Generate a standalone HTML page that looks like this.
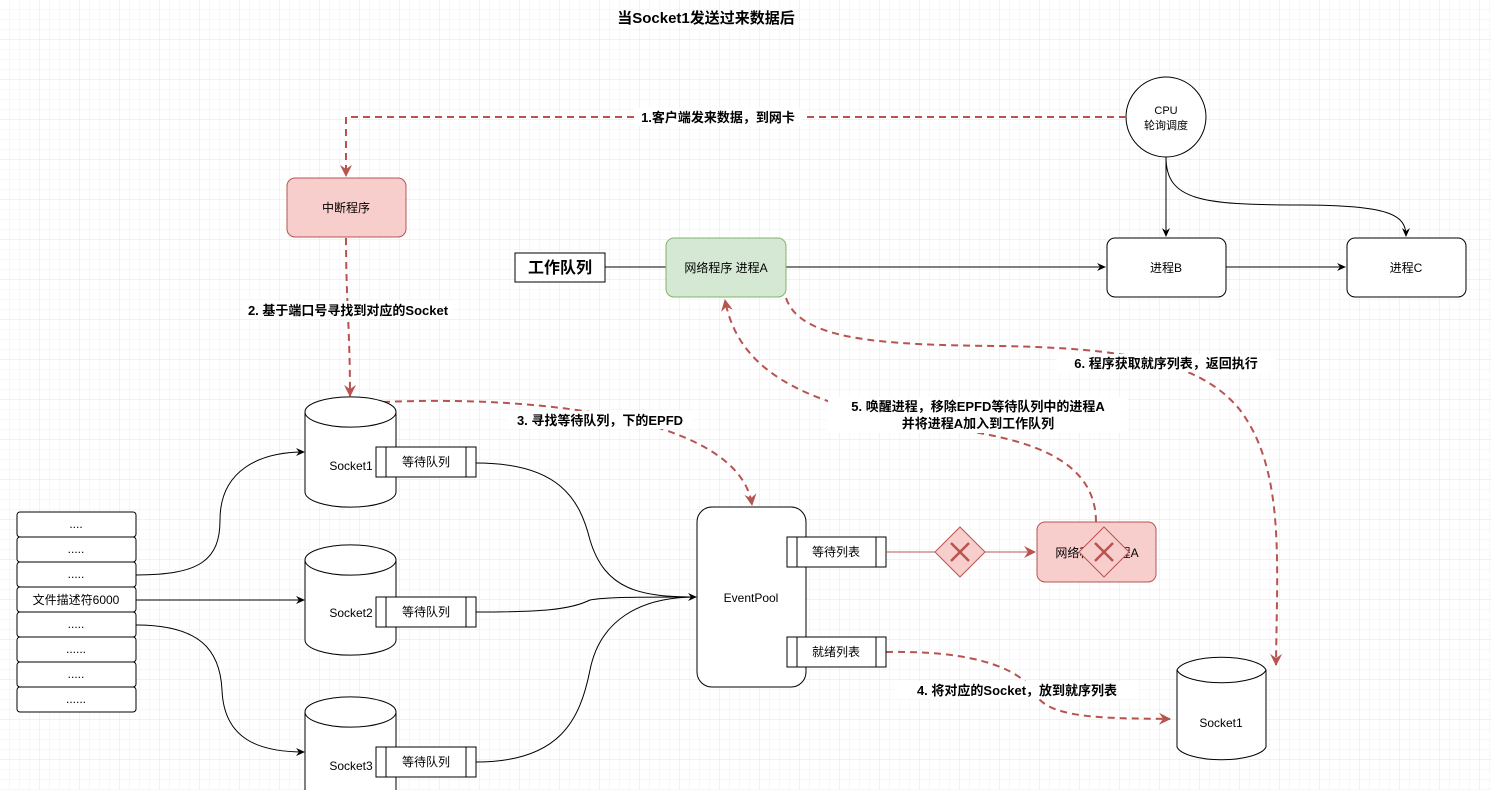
<!DOCTYPE html>
<html><head><meta charset="utf-8"><style>
html,body{margin:0;padding:0;background:#fff}
svg{display:block}
text{font-family:"Liberation Sans","Noto Sans CJK SC",sans-serif;font-size:12px;fill:#000}
.b{font-weight:bold;font-size:13px}
</style></head><body>
<svg width="1492" height="790" viewBox="0 0 1492 790" xmlns="http://www.w3.org/2000/svg">
<defs>
<pattern id="g1" width="10" height="10" patternUnits="userSpaceOnUse"><path d="M10 0V10M0 10H10" fill="none" stroke="#f1f1f1" stroke-width="1"/></pattern>
<pattern id="g4" width="40" height="40" patternUnits="userSpaceOnUse" x="0" y="0"><rect width="40" height="40" fill="url(#g1)"/><path d="M40 0V40M0 40H40" fill="none" stroke="#e4e4e4" stroke-width="1"/></pattern>
<marker id="ab" markerWidth="10" markerHeight="10" refX="8" refY="5" orient="auto" markerUnits="userSpaceOnUse"><path d="M0,1 L9,5 L0,9 L3,5z" fill="#000"/></marker>
<marker id="ar" markerWidth="14" markerHeight="14" refX="11" refY="7" orient="auto" markerUnits="userSpaceOnUse"><path d="M0,1 L12,7 L0,13 L4,7z" fill="#b85450"/></marker>
</defs>
<rect width="1492" height="790" fill="url(#g4)"/>
<text x="706" y="23" text-anchor="middle" style="font-weight:bold;font-size:15px">当Socket1发送过来数据后</text>

<circle cx="1166" cy="117" r="40" fill="#fff" stroke="#000"/>
<text x="1166" y="114" text-anchor="middle" style="font-size:11px">CPU</text>
<text x="1166" y="129" text-anchor="middle" style="font-size:11px">轮询调度</text>
<g fill="none" stroke="#b85450" stroke-width="2" stroke-dasharray="7,5">
<path d="M1126 117 H346 V176" marker-end="url(#ar)"/>
<path d="M346 238 C346 300 350 330 350 396" marker-end="url(#ar)"/>
<path d="M383 402 C550 395 740 420 752 505" marker-end="url(#ar)"/>
<path d="M886 652 C1000 650 1030 680 1040 700 C1060 720 1120 718 1170 719" marker-end="url(#ar)"/>
<path d="M1096 522 C1096 460 1030 440 960 430 C820 410 740 380 725 300" marker-end="url(#ar)"/>
<path d="M786 298 C800 340 880 345 1000 346 C1120 348 1200 360 1240 410 C1285 470 1277 560 1276 665" marker-end="url(#ar)"/>
</g>
<rect x="634" y="108" width="168" height="18" fill="#fff"/>
<text x="718" y="122" text-anchor="middle" class="b">1.客户端发来数据，到网卡</text>
<rect x="287" y="178" width="119" height="59" rx="8" fill="#f8cecc" stroke="#b85450"/>
<text x="346" y="212" text-anchor="middle">中断程序</text>
<rect x="244" y="301" width="208" height="18" fill="#fff"/>
<text x="348" y="315" text-anchor="middle" class="b">2. 基于端口号寻找到对应的Socket</text>
<rect x="508" y="411" width="184" height="18" fill="#fff"/>
<text x="600" y="425" text-anchor="middle" class="b">3. 寻找等待队列，下的EPFD</text>
<rect x="828" y="397" width="300" height="36" fill="#fff"/>
<text x="978" y="411" text-anchor="middle" class="b">5. 唤醒进程，移除EPFD等待队列中的进程A</text>
<text x="978" y="428" text-anchor="middle" class="b">并将进程A加入到工作队列</text>
<rect x="1056" y="354" width="220" height="18" fill="#fff"/>
<text x="1166" y="368" text-anchor="middle" class="b">6. 程序获取就序列表，返回执行</text>
<rect x="895" y="681" width="244" height="18" fill="#fff"/>
<text x="1017" y="695" text-anchor="middle" class="b">4.  将对应的Socket，放到就序列表</text>

<rect x="515" y="253" width="90" height="29" fill="#fff" stroke="#000"/>
<text x="560" y="273" text-anchor="middle" style="font-weight:bold;font-size:16px">工作队列</text>
<g fill="none" stroke="#000">
<path d="M605 267 H666"/>
<path d="M786 267 H1105" marker-end="url(#ab)"/>
<path d="M1226 267 H1345" marker-end="url(#ab)"/>
<path d="M1166 157 V236" marker-end="url(#ab)"/>
<path d="M1166 157 C1166 200 1200 205 1300 205 C1390 205 1406 215 1406 236" marker-end="url(#ab)"/>
</g>
<rect x="666" y="238" width="120" height="59" rx="8" fill="#d5e8d4" stroke="#82b366"/>
<text x="726" y="272" text-anchor="middle">网络程序  进程A</text>
<rect x="1107" y="238" width="119" height="59" rx="8" fill="#fff" stroke="#000"/>
<text x="1166" y="272" text-anchor="middle">进程B</text>
<rect x="1347" y="238" width="119" height="59" rx="8" fill="#fff" stroke="#000"/>
<text x="1406" y="272" text-anchor="middle">进程C</text>

<g fill="#fff" stroke="#000">
<rect x="17" y="512" width="119" height="25" rx="3"/>
<rect x="17" y="537" width="119" height="25" rx="3"/>
<rect x="17" y="562" width="119" height="25" rx="3"/>
<rect x="17" y="587" width="119" height="25" rx="3"/>
<rect x="17" y="612" width="119" height="25" rx="3"/>
<rect x="17" y="637" width="119" height="25" rx="3"/>
<rect x="17" y="662" width="119" height="25" rx="3"/>
<rect x="17" y="687" width="119" height="25" rx="3"/>
</g>
<g text-anchor="middle" style="font-size:11px">
<text x="76" y="528">....</text><text x="76" y="553">.....</text><text x="76" y="578">.....</text>
<text x="76" y="604">文件描述符6000</text>
<text x="76" y="628">.....</text><text x="76" y="653">......</text><text x="76" y="678">.....</text><text x="76" y="703">......</text>
</g>
<g fill="none" stroke="#000">
<path d="M136 575 C200 575 220 560 220 520 C220 470 260 452 304 452" marker-end="url(#ab)"/>
<path d="M136 600 H304" marker-end="url(#ab)"/>
<path d="M136 625 C200 625 220 650 222 690 C224 740 260 752 304 752" marker-end="url(#ab)"/>
<path d="M476 463 C560 463 580 500 590 540 C605 590 640 597 696 597" marker-end="url(#ab)"/>
<path d="M476 612 C540 612 570 610 590 600 C605 597 640 597 696 597"/>
<path d="M476 762 C560 762 580 720 590 670 C600 620 640 597 696 597"/>
</g>

<g fill="#fff" stroke="#000">
<path d="M305 412 A45 15 0 0 1 396 412 V492 A45 15 0 0 1 305 492 Z"/><path d="M305 412 A45 15 0 0 0 396 412" fill="none"/>
<path d="M305 560 A45 15 0 0 1 396 560 V640 A45 15 0 0 1 305 640 Z"/><path d="M305 560 A45 15 0 0 0 396 560" fill="none"/>
<path d="M305 712 A45 15 0 0 1 396 712 V800 H305 Z"/><path d="M305 712 A45 15 0 0 0 396 712" fill="none"/>
<path d="M1177 670 A45 15 0 0 1 1266 670 V747 A45 15 0 0 1 1177 747 Z"/><path d="M1177 670 A45 15 0 0 0 1266 670" fill="none"/>
</g>
<text x="351" y="470" text-anchor="middle">Socket1</text>
<text x="351" y="617" text-anchor="middle">Socket2</text>
<text x="351" y="770" text-anchor="middle">Socket3</text>
<text x="1221" y="727" text-anchor="middle">Socket1</text>
<g fill="#fff" stroke="#000">
<rect x="376" y="447" width="100" height="30"/><path d="M386 447V477M466 447V477"/>
<rect x="376" y="597" width="100" height="30"/><path d="M386 597V627M466 597V627"/>
<rect x="376" y="747" width="100" height="30"/><path d="M386 747V777M466 747V777"/>
</g>
<text x="426" y="466" text-anchor="middle">等待队列</text>
<text x="426" y="616" text-anchor="middle">等待队列</text>
<text x="426" y="766" text-anchor="middle">等待队列</text>

<rect x="697" y="507" width="109" height="180" rx="15" fill="#fff" stroke="#000"/>
<text x="751" y="602" text-anchor="middle">EventPool</text>
<g fill="#fff" stroke="#000">
<rect x="787" y="537" width="99" height="30"/><path d="M797 537V567M876 537V567"/>
<rect x="787" y="637" width="99" height="30"/><path d="M797 637V667M876 637V667"/>
</g>
<text x="836" y="556" text-anchor="middle">等待列表</text>
<text x="836" y="656" text-anchor="middle">就绪列表</text>

<path d="M886 552 H1035" stroke="#b85450" fill="none" marker-end="url(#ar)"/>
<rect x="1037" y="522" width="119" height="60" rx="8" fill="#f8cecc" stroke="#b85450"/>
<text x="1097" y="557" text-anchor="middle">网络程序 进程A</text>
<g stroke="#b85450" fill="#f8cecc">
<path d="M960 527 L985 552 L960 577 L935 552Z"/>
<path d="M1104 527 L1129 552 L1104 577 L1079 552Z"/>
</g>
<g stroke="#b85450" stroke-width="2.5">
<path d="M951 543 L969 561 M969 543 L951 561"/>
<path d="M1095 543 L1113 561 M1113 543 L1095 561"/>
</g>
</svg>
</body></html>
